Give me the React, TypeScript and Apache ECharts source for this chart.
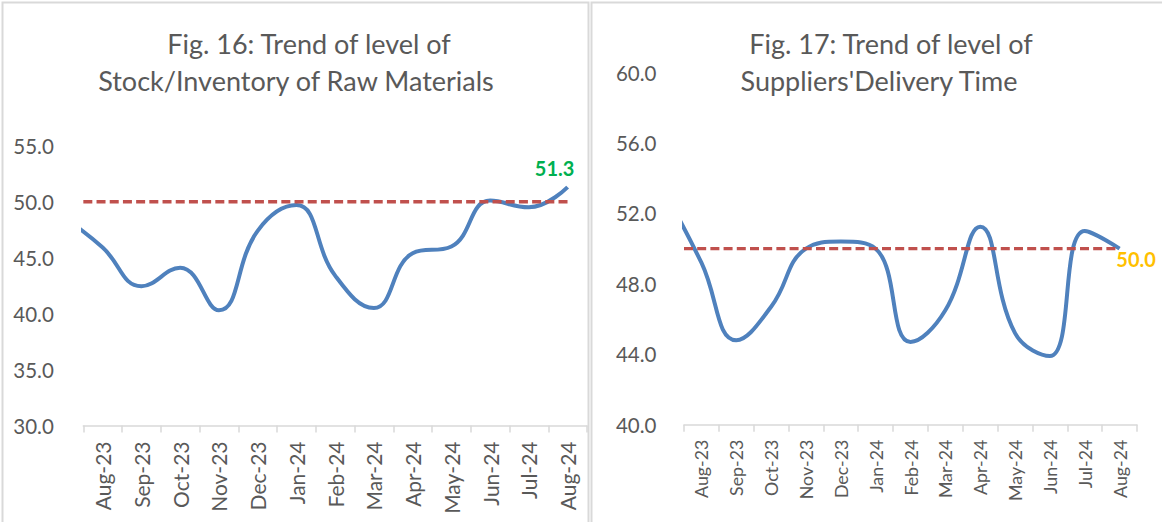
import React, { useEffect, useRef } from "react";
import * as echarts from "echarts";

// Category labels (months)
const months = [
  "Aug-23", "Sep-23", "Oct-23", "Nov-23", "Dec-23", "Jan-24", "Feb-24",
  "Mar-24", "Apr-24", "May-24", "Jun-24", "Jul-24", "Aug-24",
];

// Fig. 16 – Stock/Inventory of Raw Materials
// value of the month before the first category (Jul-23): only the start of its
// segment is visible, clipped at the left edge of the plot
const stockLeadValue = 48.6;
const stockValues = [45.9, 42.45, 44.1, 40.3, 47.4, 49.7, 43.4, 40.5, 45.4, 46.0, 50.1, 49.5, 51.3];

// Fig. 17 – Suppliers' Delivery Time
const deliveryLeadValue = 53.0;
const deliveryValues = [49.2, 44.8, 46.7, 50.0, 50.4, 50.0, 44.7, 46.5, 51.25, 45.2, 43.9, 51.0, 50.0];

// 50-point threshold line
const threshold = 50;

// y axis ranges: [min, max, interval]
const stockAxis = [30, 55, 5];
const deliveryAxis = [40, 60, 4];

const titleLeft = ["Fig. 16: Trend of level of", "Stock/Inventory of Raw Materials"];
const titleRight = ["Fig. 17: Trend of level of", "Suppliers'Delivery Time"];

const FONT = "Lato, 'Noto Sans', sans-serif";
const GREY = "#595959";
const AXIS_GREY = "#d9d9d9";
const BLUE = "#4F81BD";
const RED = "#C0504D";

function seriesPoints(lead: number, values: number[], labelColor: string, pos: string, offset: number[]) {
  const pts: any[] = [[-1, lead]];
  values.forEach((v, i) => {
    if (i === values.length - 1) {
      pts.push({
        value: [i, v],
        label: {
          show: true,
          position: pos,
          offset,
          formatter: (p: any) => Number(p.value[1]).toFixed(1),
          color: labelColor,
          fontWeight: "bold",
          fontSize: 20,
          fontFamily: FONT,
        },
      });
    } else {
      pts.push([i, v]);
    }
  });
  return pts;
}

function thresholdPoints(n: number) {
  const pts: number[][] = [[-1, threshold]];
  for (let i = 0; i < n; i++) pts.push([i, threshold]);
  return pts;
}

export default function App() {
  const ref = useRef<HTMLDivElement>(null);

  useEffect(() => {
    if (!ref.current) return;
    const chart = echarts.init(ref.current, undefined, { renderer: "svg" });

    const catAxis = (gridIndex: number, fontSize: number, margin: number) => ({
      type: "category",
      gridIndex,
      data: months,
      boundaryGap: true,
      axisLine: { show: true, lineStyle: { color: AXIS_GREY, width: 1.5 } },
      axisTick: { show: true, length: 7, lineStyle: { color: AXIS_GREY, width: 1.5 } },
      axisLabel: {
        interval: 0,
        rotate: 90,
        margin,
        color: GREY,
        fontSize,
        fontFamily: FONT,
      },
      splitLine: { show: false },
    });

    const hiddenValueX = (gridIndex: number) => ({
      type: "value",
      gridIndex,
      min: -0.5,
      max: months.length - 0.5,
      show: false,
    });

    const yAxis = (gridIndex: number, r: number[], margin: number) => ({
      type: "value",
      gridIndex,
      min: r[0],
      max: r[1],
      interval: r[2],
      axisLine: { show: false },
      axisTick: { show: false },
      splitLine: { show: false },
      axisLabel: {
        margin,
        color: GREY,
        fontSize: 20.5,
        fontFamily: FONT,
        formatter: (v: number) => v.toFixed(1),
      },
    });

    const lineSeries = (xi: number, yi: number, data: any[]) => ({
      type: "line",
      xAxisIndex: xi,
      yAxisIndex: yi,
      data,
      smooth: 0.45,
      showSymbol: true,
      symbol: "circle",
      symbolSize: 0,
      itemStyle: { color: BLUE },
      lineStyle: { color: BLUE, width: 4 },
      clip: true,
      z: 3,
    });

    const thresholdSeries = (xi: number, yi: number, offset: number) => ({
      type: "line",
      xAxisIndex: xi,
      yAxisIndex: yi,
      data: thresholdPoints(months.length),
      symbol: "none",
      lineStyle: { color: RED, width: 3.4, type: [9, 4.2], dashOffset: offset },
      clip: true,
      z: 4,
    });

    const titleText = (x: number, y: number, text: string) => ({
      type: "text",
      x,
      y,
      style: {
        text,
        align: "center",
        verticalAlign: "middle",
        fill: GREY,
        fontSize: 27,
        fontFamily: FONT,
      },
    });

    chart.setOption({
      animation: false,
      backgroundColor: "#ffffff",
      grid: [
        { left: 83.3, top: 145.8, width: 503.7, height: 279.7 },
        { left: 684, top: 72.6, width: 453, height: 352.1 },
      ],
      xAxis: [
        catAxis(0, 21, 16),
        hiddenValueX(0),
        catAxis(1, 17.8, 15),
        hiddenValueX(1),
      ],
      yAxis: [yAxis(0, stockAxis, 29.5), yAxis(1, deliveryAxis, 27.5)],
      series: [
        lineSeries(1, 0, seriesPoints(stockLeadValue, stockValues, "#00B050", "top", [-13, -4])),
        thresholdSeries(1, 0, 7),
        lineSeries(3, 1, seriesPoints(deliveryLeadValue, deliveryValues, "#FFC000", "bottom", [16.5, -5])),
        thresholdSeries(3, 1, 9),
      ],
      graphic: [
        {
          type: "rect",
          shape: { x: 2.5, y: 2.5, width: 586, height: 540 },
          style: { fill: "none", stroke: AXIS_GREY, lineWidth: 2 },
          silent: true,
        },
        {
          type: "rect",
          shape: { x: 591.5, y: 2.5, width: 580, height: 540 },
          style: { fill: "none", stroke: AXIS_GREY, lineWidth: 2 },
          silent: true,
        },
        titleText(309, 43.5, titleLeft[0]),
        titleText(296, 80, titleLeft[1]),
        titleText(891, 43.5, titleRight[0]),
        titleText(879, 80, titleRight[1]),
      ],
    });

    return () => chart.dispose();
  }, []);

  return (
    <div
      ref={ref}
      style={{ position: "fixed", left: 0, top: 0, width: 1162, height: 522, background: "#fff" }}
    />
  );
}
